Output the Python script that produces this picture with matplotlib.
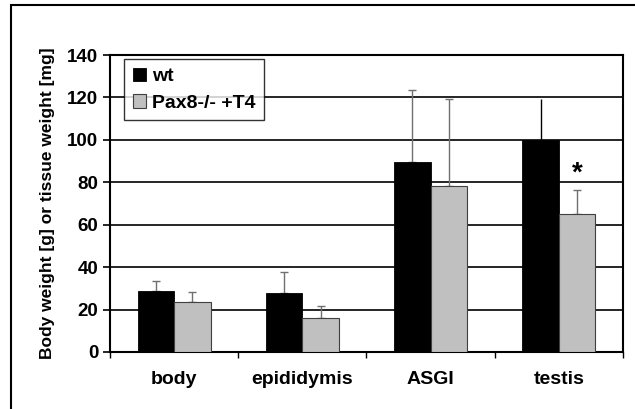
import numpy as np
import matplotlib
matplotlib.use("Agg")
import matplotlib.pyplot as plt
from matplotlib.patches import Rectangle

# dados
categorias = ["body", "epididymis", "ASGI", "testis"]
wt = [28.8, 27.6, 89.4, 100.0]
wt_err = [4.8, 10.2, 34.1, 19.3]
pax = [23.7, 16.2, 78.4, 65.2]
pax_err = [4.6, 5.6, 40.7, 11.0]
rotulos_series = ["wt", "Pax8-/- +T4"]
yticks = [0, 20, 40, 60, 80, 100, 120, 140]

plt.rcParams["font.family"] = ["Liberation Sans", "DejaVu Sans"]
plt.rcParams["font.weight"] = "bold"

fig = plt.figure(figsize=(6.35, 4.09), dpi=100)
ax = fig.add_axes([0.1732, 0.1394, 0.8079, 0.7261])

# moldura externa da figura (cortada à direita e embaixo)
fig.patches.append(Rectangle((11 / 635, -0.05), 1.1, 1 - 5 / 409 + 0.05,
                             transform=fig.transFigure, fill=False,
                             edgecolor="black", linewidth=1.5, zorder=0))

x = np.arange(len(categorias))
w = 0.285
ax.bar(x - w / 2, wt, w, color="black", edgecolor="black", linewidth=0.6,
       label=rotulos_series[0], zorder=3)
ax.bar(x + w / 2, pax, w, color="#c0c0c0", edgecolor="#404040", linewidth=0.8,
       label=rotulos_series[1], zorder=3)

# barras de erro só para cima
ax.errorbar(x[:3] - w / 2, wt[:3], yerr=[np.zeros(3), wt_err[:3]], fmt="none",
            ecolor="#707070", elinewidth=1.0, capsize=3, capthick=1.0, zorder=2.5)
ax.errorbar(x[3:] - w / 2, wt[3:], yerr=[np.zeros(1), wt_err[3:]], fmt="none",
            ecolor="black", elinewidth=1.0, capsize=0, zorder=2.5)
ax.errorbar(x + w / 2, pax, yerr=[np.zeros(len(pax)), pax_err], fmt="none",
            ecolor="#707070", elinewidth=1.0, capsize=3, capthick=1.0, zorder=2.5)

# asterisco de significância
ax.text(x[3] + w / 2, 84, "*", ha="center", va="center", fontsize=20,
        fontweight="bold")

ax.set_ylim(0, 140)
ax.set_xlim(-0.5, len(categorias) - 0.5)
ax.set_yticks(yticks)
ax.yaxis.grid(True, color="black", linewidth=1.2, zorder=0)
ax.set_axisbelow(True)

ax.set_xticks(np.arange(-0.5, len(categorias)))
ax.set_xticklabels([])
ax.set_xticks(x, minor=True)
ax.set_xticklabels(categorias, minor=True)
ax.tick_params(axis="x", which="major", direction="out", length=4, width=1)
ax.tick_params(axis="x", which="minor", length=0, pad=14, labelsize=14)
ax.tick_params(axis="y", direction="out", length=5, width=1.2, labelsize=13.5)

for s in ax.spines.values():
    s.set_linewidth(1.5)

ax.set_ylabel("Body weight [g] or tissue weight [mg]", fontsize=12.5,
              fontweight="bold", labelpad=9)

leg = ax.legend(loc="upper left", bbox_to_anchor=(0.027, 0.987), fontsize=14,
                frameon=True, fancybox=False, edgecolor="black",
                handlelength=0.7, handleheight=0.7, handletextpad=0.3,
                borderpad=0.45, labelspacing=0.45, borderaxespad=0)
leg.get_frame().set_linewidth(1.0)
for t in leg.get_texts():
    t.set_fontweight("bold")

fig.savefig("out.png", dpi=100)
